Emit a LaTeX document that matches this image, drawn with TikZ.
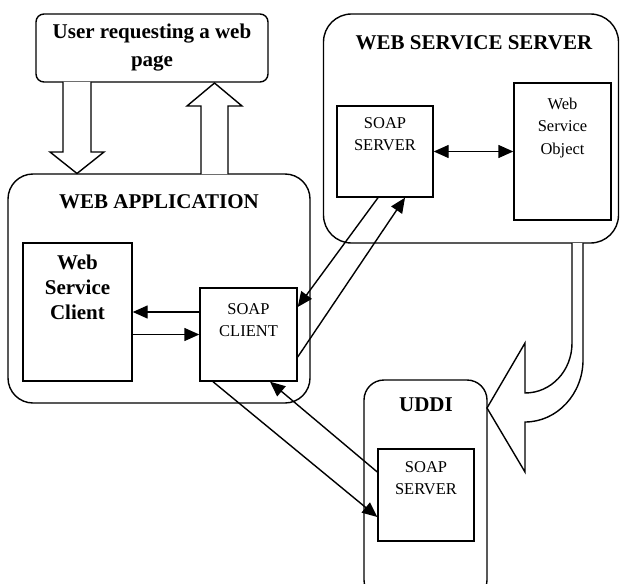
\documentclass[tikz,border=0pt]{standalone}
\usepackage{fontspec}
\setmainfont{Liberation Serif}
\usetikzlibrary{arrows.meta}
\newcommand{\ttlfont}{\fontsize{21}{28}\selectfont\bfseries}
\newcommand{\txtfont}{\fontsize{16.5}{22.5}\selectfont}

\begin{document}
\begin{tikzpicture}[x=1pt, y=-1pt, line width=1.4pt,
  group/.style={draw, rounded corners=#1, inner sep=0pt},
  box/.style={draw, inner sep=0pt},
  arr/.style={-{Triangle[length=15pt, width=13pt]}},
  hollow/.style={draw, fill=white, line join=miter}]
  \useasboundingbox (0,0) rectangle (620,583);

  % containers
  \node[group=8pt, minimum width=232pt, minimum height=68pt, font=\ttlfont, align=center] (user) at (152,48) {User requesting a web\\page};
  \node[group=25pt, minimum width=302pt, minimum height=229pt] (webapp) at (159,288.5) {};
  \node[group=28pt, minimum width=295pt, minimum height=229pt] (wss) at (471,128.5) {};
  \node[group=20pt, minimum width=123pt, minimum height=220pt] (uddi) at (425.5,490) {};
  \node[font=\ttlfont] (webappt) at (159,202) {WEB APPLICATION};
  \node[font=\ttlfont] (wsst) at (474,43) {WEB SERVICE SERVER};
  \node[font=\ttlfont] (uddit) at (426,405) {UDDI};

  % inner boxes
  \node[box, minimum width=109pt, minimum height=138pt] (wsc) at (77.5,312) {};
  \node[font=\fontsize{21}{25}\selectfont\bfseries, align=center] (wsct) at (77.5,287) {Web\\Service\\Client};
  \node[box, minimum width=97pt, minimum height=93pt] (soapc) at (248.5,334.5) {};
  \node[font=\txtfont, align=center] (soapct) at (248.5,320) {SOAP\\CLIENT};
  \node[box, minimum width=96pt, minimum height=91pt] (soaps) at (385,151.5) {};
  \node[font=\txtfont, align=center] (soapst) at (385,134) {SOAP\\SERVER};
  \node[box, minimum width=97pt, minimum height=137pt] (wso) at (562.5,151.5) {};
  \node[font=\txtfont, align=center] (wsot) at (562.5,128) {Web\\Service\\Object};
  \node[box, minimum width=96pt, minimum height=92pt] (usoaps) at (426,495) {};
  \node[font=\txtfont, align=center] (usoapst) at (426,478) {SOAP\\SERVER};

  % connectors
  \draw[arr] (soapc.west |- wsc.east) -- (wsc.east);
  \draw[arr] (wsc.east |- soapc.west) -- (soapc.west);
  \draw[arr, {Triangle[length=15pt, width=13pt]}-{Triangle[length=15pt, width=13pt]}] (soaps.east) -- (wso.west |- soaps.east);
  \draw[arr] ([xshift=-7pt]soaps.south) -- ([yshift=27.5pt]soapc.east);
  \draw[arr] ([yshift=-22.5pt]soapc.east) -- ([xshift=20pt]soaps.south);
  \draw[arr] ([xshift=-35.5pt]soapc.south) -- ([yshift=-22pt]usoaps.west);
  \draw[arr] ([yshift=23pt]usoaps.west) -- ([xshift=21.5pt]soapc.south);

  % block arrows
  \draw[hollow] (63,82) -- (63,152) -- (50,152) -- (77,173.5) -- (104,152) -- (91,152) -- (91,82);
  \draw[hollow] (201,174) -- (201,106) -- (187,106) -- (214.5,83) -- (242,106) -- (228,106) -- (228,174);
  \draw[hollow] (572,243) -- (572,343) .. controls (572,371) and (551,393) .. (525,393) -- (525,343) -- (487,408)
    -- (525,472) -- (525,422) .. controls (557,422) and (583,394) .. (583,360) -- (583,243);
\end{tikzpicture}
\end{document}
